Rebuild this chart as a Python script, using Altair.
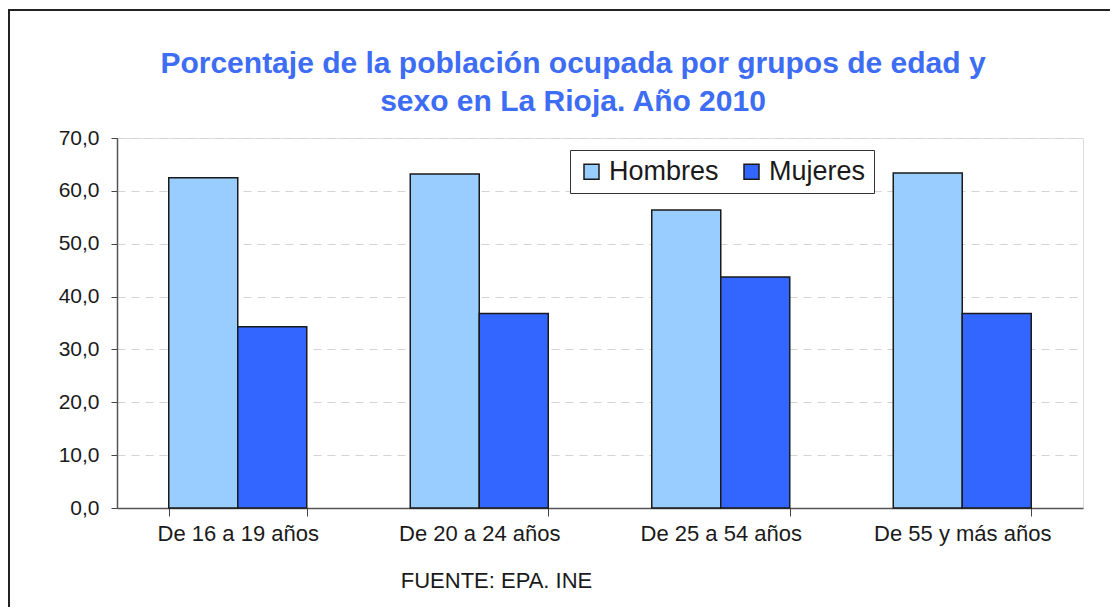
import altair as alt
import pandas as pd

categories = ["De 16 a 19 años", "De 20 a 24 años", "De 25 a 54 años", "De 55 y más años"]
series = ["Hombres", "Mujeres"]
hombres = [62.5, 63.2, 56.4, 63.4]
mujeres = [34.3, 36.8, 43.7, 36.8]
colors = ["#99CCFF", "#3366FF"]
y_ticks = [0, 10, 20, 30, 40, 50, 60, 70]
title_lines = ["Porcentaje de la población ocupada por grupos de edad y",
               "sexo en La Rioja. Año 2010"]
source = "FUENTE: EPA. INE"

rows = []
for c, h, m in zip(categories, hombres, mujeres):
    rows.append({"grupo": c, "sexo": "Hombres", "valor": h})
    rows.append({"grupo": c, "sexo": "Mujeres", "valor": m})
df = pd.DataFrame(rows)

FONT = "Liberation Sans"

bars = alt.Chart(df).mark_bar(stroke="#1a1a1a", strokeWidth=1.5).encode(
    x=alt.X("grupo:N", sort=categories,
            scale=alt.Scale(paddingInner=0.4286, paddingOuter=0.2143),
            axis=alt.Axis(title=source, titleFont=FONT, titleFontSize=22,
                          titleFontWeight="normal", titleColor="#1a1a1a",
                          titleX=379, titleY=72, titleAnchor="middle",
                          titleBaseline="middle",
                          labelAngle=0, labelFont=FONT, labelFontSize=22,
                          labelColor="#1a1a1a", labelPadding=7,
                          tickBand="extent", tickSize=8, tickColor="#444",
                          domainColor="#555", domainWidth=1.5, grid=False)),
    xOffset=alt.XOffset("sexo:N", sort=series),
    y=alt.Y("valor:Q", scale=alt.Scale(domain=[0, 70]),
            axis=alt.Axis(title=None, values=y_ticks, format=".1f",
                          labelFont=FONT, labelFontSize=21, labelColor="#1a1a1a",
                          labelPadding=12, tickSize=6, tickColor="#444",
                          domainColor="#555", domainWidth=1.5,
                          gridColor="#d4d4d4", gridDash=[8, 6], gridWidth=1)),
    color=alt.Color("sexo:N", sort=series,
                    scale=alt.Scale(domain=series, range=colors),
                    legend=alt.Legend(title=None, orient="none", direction="horizontal",
                                      legendX=453, legendY=12,
                                      symbolType="square", symbolSize=225,
                                      symbolStrokeColor="#1a1a1a", symbolStrokeWidth=1.5,
                                      labelFont=FONT, labelFontSize=27, labelColor="#1a1a1a",
                                      labelOffset=4, columnPadding=19,
                                      strokeColor="#333", fillColor="white",
                                      padding=8)),
)

frame = alt.Chart(pd.DataFrame({"k": [0]})).mark_rect(
    fill=None, stroke="#222", strokeWidth=2, clip=False
).encode(x=alt.value(-108), x2=alt.value(1200), y=alt.value(-128), y2=alt.value(700))

title = alt.Chart(pd.DataFrame({"k": [0]})).mark_text(
    text=title_lines, font=FONT, fontSize=30, fontWeight="bold", color="#3D6CF5",
    align="center", baseline="top", lineHeight=38
).encode(x=alt.value(456), y=alt.value(-89))

chart = alt.layer(frame, title, bars).properties(
    width=966, height=370,
    autosize=alt.AutoSizeParams(type="none"),
    padding={"left": 109, "top": 130, "right": 27, "bottom": 99},
).configure_view(stroke="#999", strokeWidth=1.5).configure(
    background="white", locale={"number": {"decimal": ",", "thousands": ".", "grouping": [3], "currency": ["", " €"]}}
)

chart.save("out.html", embed_options={"renderer": "svg", "actions": False})
